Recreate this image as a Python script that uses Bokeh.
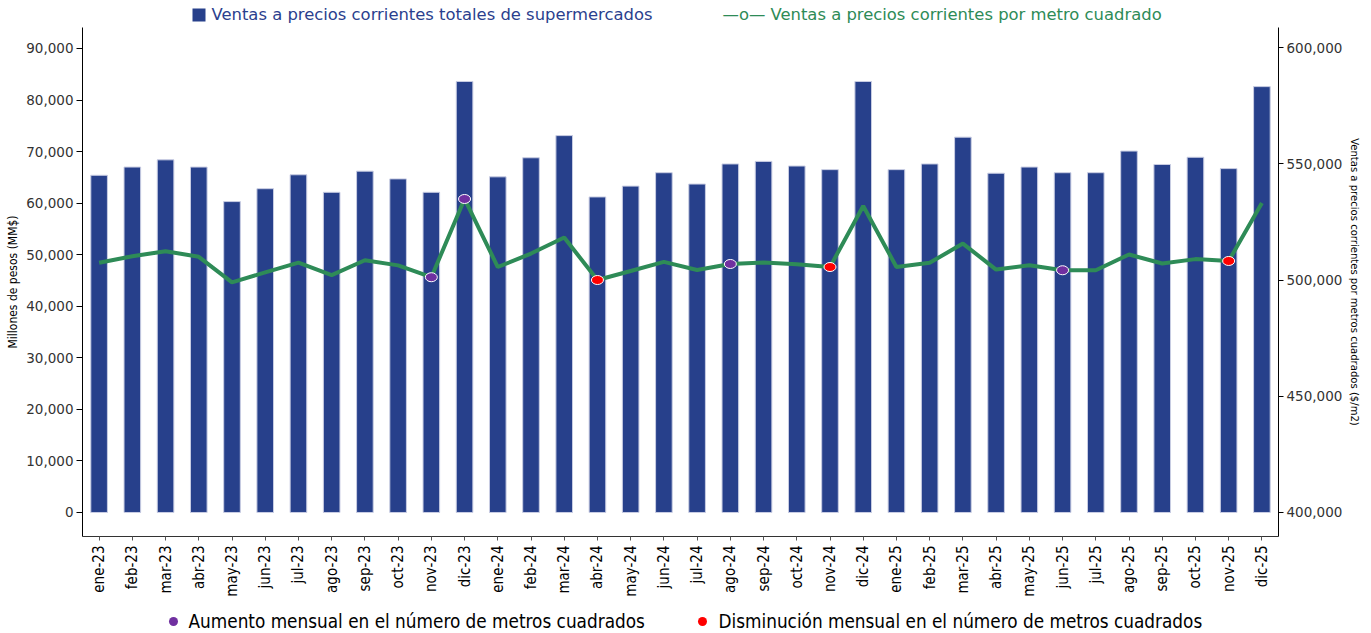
import math
from bokeh.plotting import figure
from bokeh.layouts import column
from bokeh.models import (Range1d, LinearAxis, FactorRange, Label,
                          NumeralTickFormatter, FixedTicker)
from bokeh.embed import file_html
from bokeh.resources import INLINE

months = ["ene-23", "feb-23", "mar-23", "abr-23", "may-23", "jun-23", "jul-23", "ago-23",
          "sep-23", "oct-23", "nov-23", "dic-23",
          "ene-24", "feb-24", "mar-24", "abr-24", "may-24", "jun-24", "jul-24", "ago-24",
          "sep-24", "oct-24", "nov-24", "dic-24",
          "ene-25", "feb-25", "mar-25", "abr-25", "may-25", "jun-25", "jul-25", "ago-25",
          "sep-25", "oct-25", "nov-25", "dic-25"]

ventas_totales = [65400, 67000, 68400, 67000, 60300, 62800, 65500, 62100, 66200, 64700, 62100, 83600,
                  65100, 68800, 73100, 61200, 63300, 65900, 63700, 67600, 68100, 67200, 66500, 83600,
                  66500, 67600, 72800, 65800, 67000, 65900, 65900, 70100, 67500, 68900, 66700, 82600]

ventas_m2 = [507400, 510200, 512400, 510000, 499000, 503300, 507500, 502100, 508500, 506300, 501200, 534900,
             505600, 511400, 518300, 500000, 503900, 507800, 504300, 506900, 507500, 506800, 505600, 531900,
             505600, 507400, 515700, 504500, 506400, 504200, 504200, 511000, 507100, 509000, 508200, 533200]

aumento_meses = ["nov-23", "dic-23", "ago-24", "jun-25"]
disminucion_meses = ["abr-24", "nov-24", "nov-25"]

left_ticks = [0, 10000, 20000, 30000, 40000, 50000, 60000, 70000, 80000, 90000]
right_ticks = [400000, 450000, 500000, 550000, 600000]

legend_top_bars = "Ventas a precios corrientes totales de supermercados"
legend_top_line = "\u2014o\u2014 Ventas a precios corrientes por metro cuadrado"
legend_aumento = "Aumento mensual en el número de metros cuadrados"
legend_disminucion = "Disminución mensual en el número de metros cuadrados"

BAR_BLUE = "#27408b"
TEXT_BLUE = "#2b3f8e"
GREEN = "#2e8b57"
PURPLE = "#7030a0"
RED = "#ff0000"
NARROW = "DejaVu Sans Condensed, Roboto"

W = 1371
FRAME_L = 82
FRAME_R = 1278
H_TOP = 27
H_MAIN = 574
H_BOT = 31

m2_lookup = dict(zip(months, ventas_m2))
aum_y = [m2_lookup[m] for m in aumento_meses]
dis_y = [m2_lookup[m] for m in disminucion_meses]


def strip_fig(h):
    # frames of the column children are aligned to the main frame, so use page pixels
    f = figure(width=W, height=h, x_range=Range1d(FRAME_L, FRAME_R), y_range=Range1d(0, h),
               output_backend="svg", toolbar_location=None,
               x_axis_location=None, y_axis_location=None,
               min_border_left=FRAME_L, min_border_right=W - FRAME_R,
               min_border_top=0, min_border_bottom=0)
    f.outline_line_color = None
    f.xgrid.visible = False
    f.ygrid.visible = False
    return f


# ---------- header legend ----------
top = strip_fig(H_TOP)
top.scatter(x=[198.5], y=[H_TOP - 14.5], marker="square", size=13,
            fill_color=BAR_BLUE, line_color=None)
top.add_layout(Label(x=211, y=H_TOP - 14, text=legend_top_bars,
                     text_baseline="middle", text_align="left", text_font="DejaVu Sans",
                     text_font_size="16.4px", text_color=TEXT_BLUE))
top.add_layout(Label(x=722, y=H_TOP - 14, text=legend_top_line,
                     text_baseline="middle", text_align="left", text_font="DejaVu Sans",
                     text_font_size="16.4px", text_color=GREEN))

# ---------- main chart ----------
p = figure(x_range=FactorRange(factors=months, range_padding=0),
           y_range=Range1d(-4655, 94065),
           width=W, height=H_MAIN, output_backend="svg", toolbar_location=None,
           min_border_left=FRAME_L, min_border_right=W - FRAME_R,
           min_border_top=0, min_border_bottom=65)
p.extra_y_ranges = {"right": Range1d(389530, 608760)}
p.outline_line_color = None
p.xgrid.visible = False
p.ygrid.visible = False

p.vbar(x=months, top=ventas_totales, bottom=0, width=0.5,
       fill_color=BAR_BLUE, line_color="#c9cde3", line_width=1)

p.line(x=months, y=ventas_m2, y_range_name="right", line_color=GREEN, line_width=4)

p.ellipse(x=aumento_meses, y=aum_y, width=12, height=9, width_units="screen", height_units="screen",
          y_range_name="right", fill_color=PURPLE, line_color="white", line_width=1)
p.ellipse(x=disminucion_meses, y=dis_y, width=12, height=9, width_units="screen", height_units="screen",
          y_range_name="right", fill_color=RED, line_color="white", line_width=1)

ya = p.yaxis[0]
ya.ticker = FixedTicker(ticks=left_ticks)
ya.formatter = NumeralTickFormatter(format="0,0")
ya.axis_label = "Millones de pesos (MM$)"
ya.axis_label_text_font = NARROW
ya.axis_label_text_font_style = "normal"
ya.axis_label_text_font_size = "12px"
ya.axis_label_text_color = "black"
ya.axis_label_standoff = 3
ya.major_label_text_font = "DejaVu Sans"
ya.major_label_text_font_size = "13.5px"
ya.major_label_text_color = "#333333"
ya.major_label_standoff = 3
ya.major_tick_out = 6
ya.major_tick_in = 0
ya.minor_tick_out = 0
ya.minor_tick_in = 0
ya.axis_line_color = "black"
ya.major_tick_line_color = "black"

yr = LinearAxis(y_range_name="right", ticker=FixedTicker(ticks=right_ticks),
                formatter=NumeralTickFormatter(format="0,0"))
yr.axis_label = "Ventas a precios corrientes por metros cuadrados ($/m2)"
yr.axis_label_text_font = NARROW
yr.axis_label_text_font_style = "normal"
yr.axis_label_text_font_size = "11.2px"
yr.axis_label_text_color = "black"
yr.axis_label_standoff = 3
yr.major_label_text_font = "DejaVu Sans"
yr.major_label_text_font_size = "13.5px"
yr.major_label_text_color = "#333333"
yr.major_label_standoff = 3
yr.major_tick_out = 5
yr.major_tick_in = 0
yr.minor_tick_out = 0
yr.minor_tick_in = 0
yr.axis_line_color = "black"
yr.major_tick_line_color = "black"
p.add_layout(yr, "right")

xa = p.xaxis[0]
xa.major_label_orientation = math.pi / 2
xa.major_label_text_font = NARROW
xa.major_label_text_font_size = "15px"
xa.major_label_text_color = "black"
xa.major_label_standoff = 5
xa.major_tick_out = 4
xa.major_tick_in = 0
xa.axis_line_color = "#333333"
xa.major_tick_line_color = "#555555"

# ---------- footer legend ----------
bot = strip_fig(H_BOT)
bot.scatter(x=[173, 702], y=[H_BOT - 20, H_BOT - 20], marker="circle", size=9,
            fill_color=[PURPLE, RED], line_color=None)
bot.add_layout(Label(x=188, y=H_BOT - 20, text=legend_aumento,
                     text_baseline="middle", text_align="left", text_font=NARROW,
                     text_font_size="18.8px", text_color="black"))
bot.add_layout(Label(x=718, y=H_BOT - 20, text=legend_disminucion,
                     text_baseline="middle", text_align="left", text_font=NARROW,
                     text_font_size="18.8px", text_color="black"))

layout = column(top, p, bot, spacing=0)
open("out.html", "w").write(file_html(layout, INLINE))
